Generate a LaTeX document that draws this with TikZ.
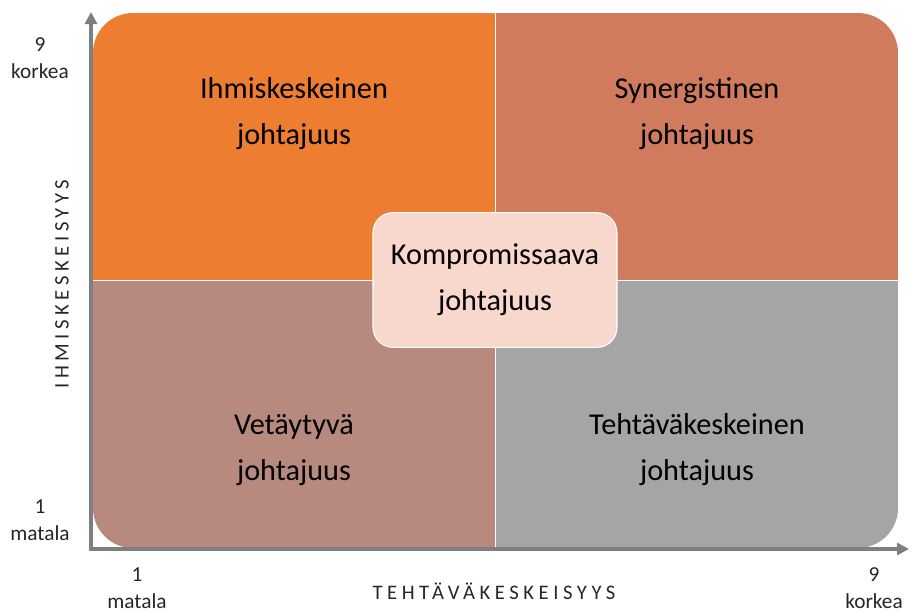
\documentclass[tikz,border=0pt]{standalone}
\usepackage{fontspec}
\setmainfont{Carlito}
\usetikzlibrary{arrows.meta}
\usetikzlibrary{calc}

\definecolor{ihmisorange}{HTML}{ED7D31}
\definecolor{synergia}{HTML}{D17B5E}
\definecolor{vetaytyva}{HTML}{B8897F}
\definecolor{tehtava}{HTML}{A5A5A5}
\definecolor{kompro}{HTML}{F8D7CC}
\definecolor{akseli}{HTML}{7F7F7F}

\tikzset{
    quadtext/.style={align=center, text=black, font=\fontsize{22.7}{34.5}\selectfont},
    ticktext/.style={align=center, text=black!85, font=\fontsize{16}{20}\selectfont},
    axistext/.style={text=black!85, font=\fontsize{15.5}{16}\selectfont\addfontfeature{LetterSpace=22}},
    axisline/.style={draw=akseli, line width=2.4pt, -{Triangle[length=9pt,width=9pt]}}
}

\begin{document}
\begin{tikzpicture}[x=0.75pt,y=-0.75pt]
    \useasboundingbox (0,0) rectangle (912,612);

    % Define coordinates for the corners of the grid
    \coordinate (NW) at (93,13);
    \coordinate (SE) at (898,548);
    \coordinate (M) at (495,280);

    % Fill the four quadrants inside one rounded frame
    \begin{scope}
        \clip[rounded corners=30pt] (NW) rectangle (SE);
        \fill[ihmisorange] (NW) rectangle (M);
        \fill[synergia] (NW -| M) rectangle (M -| SE);
        \fill[vetaytyva] (M -| NW) rectangle (SE -| M);
        \fill[tehtava] (M) rectangle (SE);
        \draw[white, line width=0.6pt] (NW -| M) -- (SE -| M);
        \draw[white, line width=0.6pt] (M -| NW) -- (M -| SE);
    \end{scope}

    % Quadrant labels
    \node[quadtext] (ihmis) at (294,114) {Ihmiskeskeinen\\johtajuus};
    \node[quadtext] (synerg) at (697,114) {Synergistinen\\johtajuus};
    \node[quadtext] (vetay) at (294,450) {Vetäytyvä\\johtajuus};
    \node[quadtext] (tehtkesk) at (697,450) {Tehtäväkeskeinen\\johtajuus};

    % Middle box
    \node[quadtext, fill=kompro, draw=white, line width=0.8pt, rounded corners=15pt,
          minimum width=183pt, minimum height=101pt] (kompr) at (M) {Kompromissaava\\johtajuus};

    % Draw the axes
    \coordinate (O) at (91,549);
    \coordinate (Ytop) at (91,12);
    \coordinate (Xend) at (909,549);
    \draw[axisline] ($(O)+(0,1.5)$) -- (Ytop);
    \draw[axisline] ($(O)+(-1.5,0)$) -- (Xend);

    % Axis names
    \node[axistext, rotate=90] (ylabel) at (62,284) {IHMISKESKEISYYS};
    \node[axistext] (xlabel) at (494,591) {TEHTÄVÄKESKEISYYS};

    % Scale ends
    \node[ticktext] (yhigh) at (40,58) {9\\korkea};
    \node[ticktext] (ylow) at (40,520) {1\\matala};
    \node[ticktext] (xlow) at (137,588) {1\\matala};
    \node[ticktext] (xhigh) at (874,588) {9\\korkea};
\end{tikzpicture}
\end{document}
